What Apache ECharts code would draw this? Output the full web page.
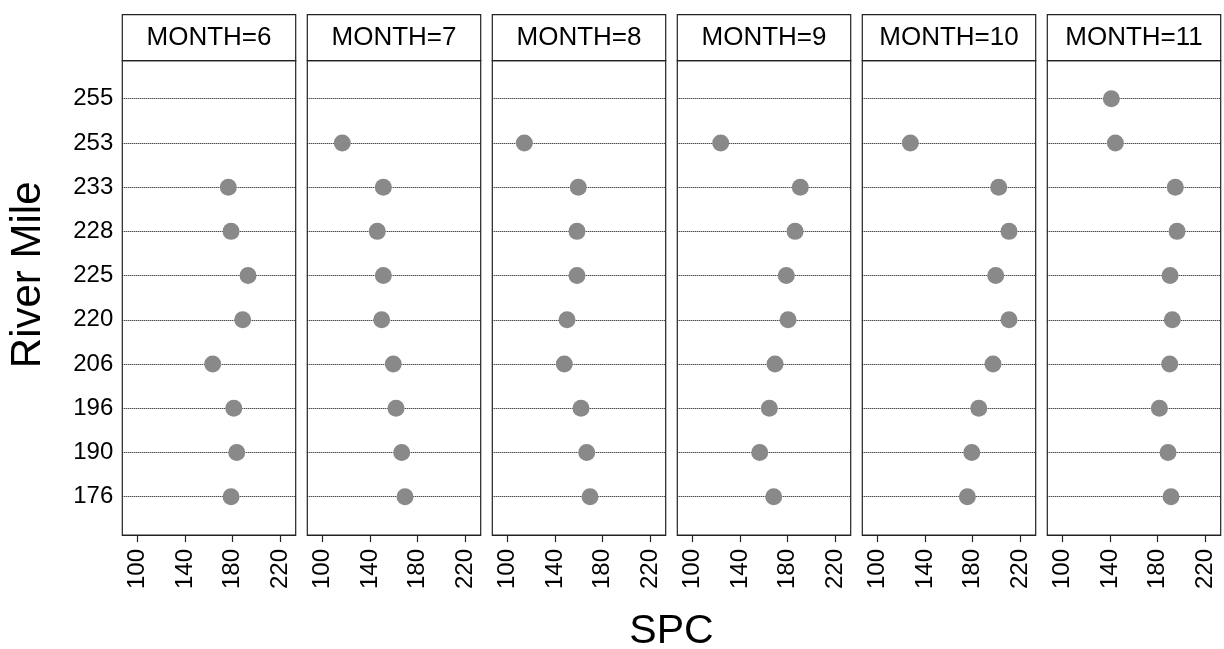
<!DOCTYPE html>
<html>
<head>
<meta charset="utf-8">
<script src="https://cdn.jsdelivr.net/npm/echarts@6/dist/echarts.min.js"></script>
<style>
html,body{margin:0;padding:0;background:#fff;}
#chart{width:1224px;height:649px;}
</style>
</head>
<body>
<div id="chart"></div>
<script>
// ---- data ----
const riverMiles = ['176','190','196','206','220','225','228','233','253','255']; // bottom -> top
const months = ['MONTH=6','MONTH=7','MONTH=8','MONTH=9','MONTH=10','MONTH=11'];
const spcMonth6  = [178.7, 183.5, 181.0, 163.2, 188.5, 193.0, 178.7, 176.4, null, null];
const spcMonth7  = [169.4, 166.6, 161.8, 159.5, 149.7, 151.1, 146.0, 151.1, 116.5, null];
const spcMonth8  = [169.4, 166.6, 161.8, 147.7, 150.0, 158.4, 158.4, 159.5, 114.0, null];
const spcMonth9  = [168.3, 156.5, 164.6, 169.4, 180.4, 178.9, 186.3, 190.7, 123.6, null];
const spcMonth10 = [175.6, 179.3, 185.2, 197.2, 210.7, 199.5, 210.7, 202.0, 127.5, null];
const spcMonth11 = [191.3, 188.8, 181.5, 190.2, 192.4, 190.5, 196.4, 194.9, 144.4, 141.0];
const xTicks = [100, 140, 180, 220];
const xMin = 87, xMax = 233.2;
const seriesValues = [spcMonth6, spcMonth7, spcMonth8, spcMonth9, spcMonth10, spcMonth11];

// ---- layout ----
const FONT = "'Liberation Sans', Arial, Helvetica, sans-serif";
const PANEL_LEFT0 = 122.3, PANEL_PITCH = 185, PANEL_W = 173.4;
const STRIP_TOP = 14.7, FRAME_TOP = 60.7, FRAME_BOTTOM = 535;
const ROW_TOP = 98.7, ROW_BOTTOM = 496.7;

const grids = [], xAxes = [], yAxes = [], series = [], graphics = [];
months.forEach((m, i) => {
  const left = PANEL_LEFT0 + PANEL_PITCH * i;
  grids.push({left: left, top: ROW_TOP, width: PANEL_W, height: ROW_BOTTOM - ROW_TOP, containLabel: false});
  xAxes.push({
    type: 'value', gridIndex: i, min: xMin, max: xMax, position: 'bottom',
    offset: FRAME_BOTTOM - ROW_BOTTOM,
    axisLine: {show: true, onZero: false, lineStyle: {color: '#222', width: 1.2}},
    axisTick: {show: true, length: 7, customValues: xTicks, lineStyle: {color: '#222', width: 1.2}},
    axisLabel: {show: true, customValues: xTicks, rotate: 90, margin: 14, fontSize: 24, color: '#000', fontFamily: FONT},
    splitLine: {show: false}
  });
  yAxes.push({
    type: 'category', gridIndex: i, data: riverMiles, boundaryGap: false,
    axisLine: {show: false}, axisTick: {show: false},
    axisLabel: {show: i === 0, fontSize: 24, color: '#000', fontFamily: FONT, margin: 9},
    splitLine: {show: true, lineStyle: {type: 'dotted', color: '#000', width: 1}}
  });
  const data = [];
  seriesValues[i].forEach((v, k) => { if (v !== null) data.push([v, k]); });
  series.push({
    type: 'scatter', xAxisIndex: i, yAxisIndex: i, data: data,
    symbol: 'circle', symbolSize: 17,
    itemStyle: {color: '#898989', opacity: 1}, z: 5,
    emphasis: {disabled: true}
  });
  // panel frame
  graphics.push({type: 'rect', z: 10, silent: true,
    shape: {x: left, y: FRAME_TOP, width: PANEL_W, height: FRAME_BOTTOM - FRAME_TOP},
    style: {fill: 'none', stroke: '#222', lineWidth: 1.2}});
  // strip
  graphics.push({type: 'rect', z: 10, silent: true,
    shape: {x: left, y: STRIP_TOP, width: PANEL_W, height: FRAME_TOP - STRIP_TOP},
    style: {fill: '#fff', stroke: '#222', lineWidth: 1.2}});
  graphics.push({type: 'text', z: 11, silent: true,
    x: left + PANEL_W / 2, y: (STRIP_TOP + FRAME_TOP) / 2,
    style: {text: m, font: '26px ' + FONT, fill: '#000', align: 'center', verticalAlign: 'middle'}});
});

const plotCenterX = (PANEL_LEFT0 + PANEL_LEFT0 + PANEL_PITCH * 5 + PANEL_W) / 2;
graphics.push({type: 'text', silent: true, x: plotCenterX, y: 632,
  style: {text: 'SPC', font: '41px ' + FONT, fill: '#000', align: 'center', verticalAlign: 'middle'}});
graphics.push({type: 'text', silent: true, x: 28, y: (STRIP_TOP + FRAME_BOTTOM) / 2, rotation: Math.PI / 2,
  style: {text: 'River Mile', font: '42px ' + FONT, fill: '#000', align: 'center', verticalAlign: 'middle'}});

const chart = echarts.init(document.getElementById('chart'), null, {renderer: 'canvas'});
chart.setOption({
  animation: false,
  backgroundColor: '#fff',
  grid: grids, xAxis: xAxes, yAxis: yAxes, series: series,
  graphic: graphics
});
</script>
</body>
</html>
